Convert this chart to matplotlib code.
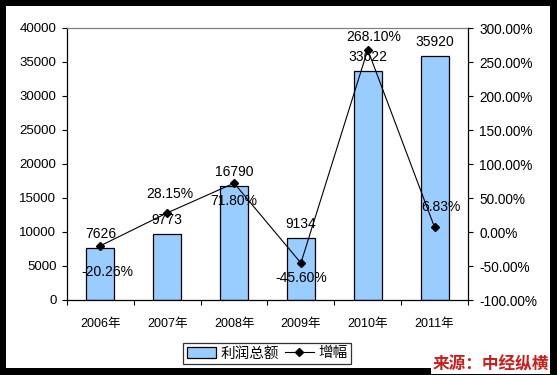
import matplotlib
matplotlib.use("Agg")
import matplotlib.pyplot as plt
from matplotlib.lines import Line2D
from matplotlib.patches import Patch, Rectangle
import numpy as np

plt.rcParams['font.family'] = ['Liberation Sans', 'Noto Sans CJK SC', 'DejaVu Sans']

years = ['2006年', '2007年', '2008年', '2009年', '2010年', '2011年']
profit = [7626, 9773, 16790, 9134, 33622, 35920]
growth = [-20.26, 28.15, 71.80, -45.60, 268.10, 6.83]
left_ticks = [0, 5000, 10000, 15000, 20000, 25000, 30000, 35000, 40000]
right_ticks = [-100, -50, 0, 50, 100, 150, 200, 250, 300]

W, H = 557, 375
fig = plt.figure(figsize=(W/100, H/100), dpi=100, facecolor='black')
# white inner panel
fig.patches.append(Rectangle((6/W, 1-368/H), (550-6)/W, (368-6)/H,
                             transform=fig.transFigure, facecolor='white',
                             edgecolor='none', zorder=-10))

ax = fig.add_axes([67/W, 1-300/H, (468-67)/W, (300-28)/H])
ax.set_facecolor('white')
x = np.arange(len(years))
ax.bar(x, profit, width=0.42, color='#99CCFF', edgecolor='black', linewidth=0.9, zorder=2)
ax.set_xlim(-0.5, len(years)-0.5)
ax.set_ylim(0, 40000)
ax.set_yticks(left_ticks)
ax.set_yticklabels([str(v) for v in left_ticks], fontsize=9.5)
ax.set_xticks(x)
ax.set_xticklabels(years, fontsize=9)
ax.set_xticks(np.arange(-0.5, len(years)), minor=True)
ax.tick_params(axis='x', which='major', length=0, pad=13)
ax.tick_params(axis='x', which='minor', length=3.6, width=0.8, direction='out')
ax.tick_params(axis='y', length=3.6, width=0.8, direction='out', pad=4)
for s in ['left', 'bottom']:
    ax.spines[s].set_linewidth(0.9)
ax.spines['top'].set_color('#808080')
ax.spines['top'].set_linewidth(0.9)
ax.spines['right'].set_visible(False)

ax2 = ax.twinx()
ax2.plot(x, growth, color='black', linewidth=0.8, marker='D', markersize=4.5, zorder=3)
ax2.set_ylim(-100, 300)
ax2.set_yticks(right_ticks)
ax2.set_yticklabels([f'{v:.2f}%' for v in right_ticks], fontsize=9.8)
ax2.tick_params(axis='y', length=3.6, width=0.8, direction='out', pad=4.5)
ax2.spines['right'].set_linewidth(0.9)
ax2.spines['top'].set_visible(False)
ax2.spines['left'].set_visible(False)
ax2.spines['bottom'].set_visible(False)

# bar value labels
for xi, v in zip(x, profit):
    ax.annotate(str(v), (xi, v), xytext=(0, 5), textcoords='offset points',
                ha='center', va='bottom', fontsize=10, zorder=5)

# growth labels (offsets in points)
g_off = [(5, -19), (1.5, 13.5), (0, -12.5), (0, -11), (4.5, 9), (4.5, 15)]
for xi, g, (dx, dy) in zip(x, growth, g_off):
    ax2.annotate(f'{g:.2f}%', (xi, g), xytext=(dx, dy), textcoords='offset points',
                 ha='center', va='center', fontsize=10, zorder=5)

handles = [Patch(facecolor='#99CCFF', edgecolor='black', linewidth=0.9),
           Line2D([0], [0], color='black', linewidth=0.8, marker='D', markersize=4.5)]
leg = fig.legend(handles, ['利润总额', '增幅'], loc='center', ncol=2,
                 bbox_to_anchor=(267/W, 1-353.5/H), fontsize=10.5, frameon=True,
                 fancybox=False, edgecolor='black', borderpad=0.25,
                 handlelength=2.0, handletextpad=0.3, columnspacing=0.4,
                 borderaxespad=0)
leg.get_frame().set_linewidth(0.9)

fig.text(549/W, 1-364/H, '来源：中经纵横', ha='right', va='center', fontsize=12,
         fontweight='bold', fontstyle='italic', color='#C81E1E',
         family=['Noto Sans CJK SC'],
         bbox=dict(facecolor='white', edgecolor='none', pad=1))

fig.savefig('out.png', dpi=100, facecolor='black')
